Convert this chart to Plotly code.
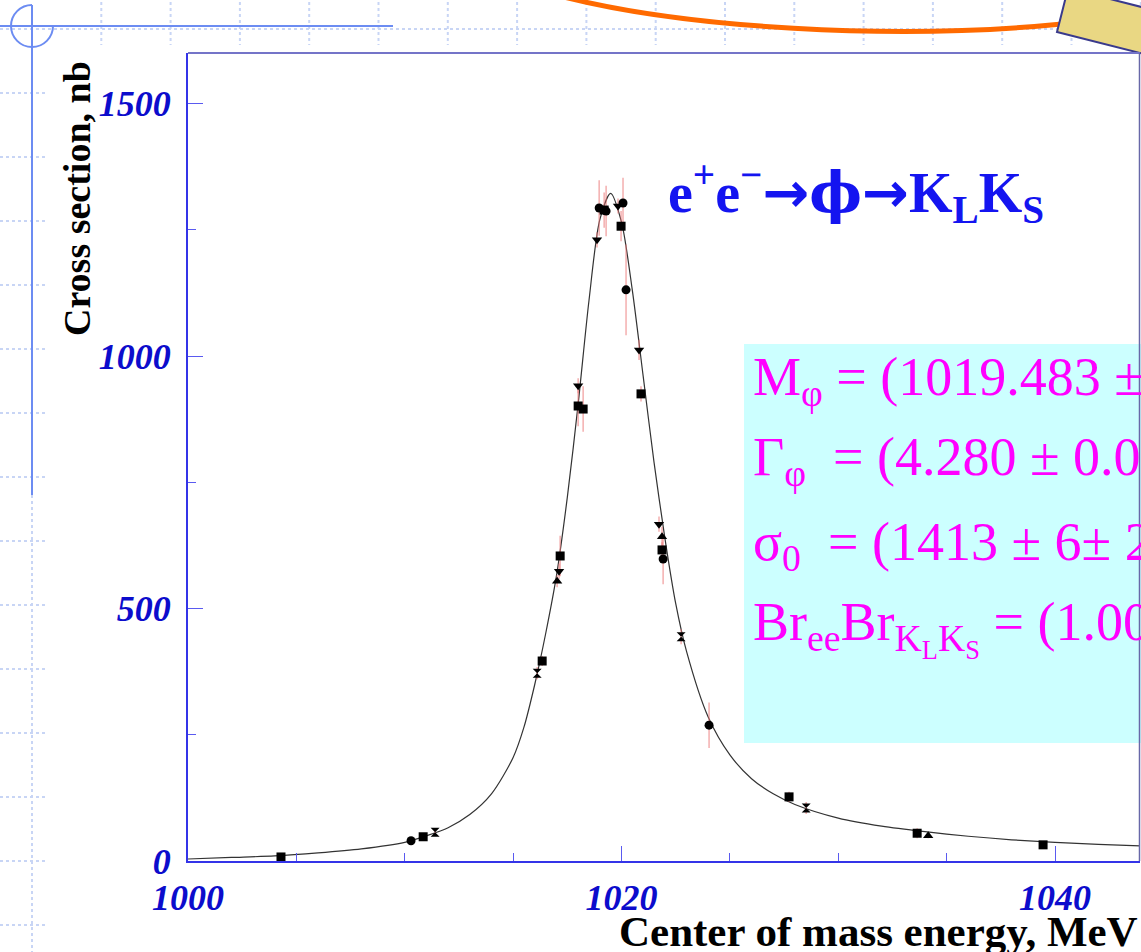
import plotly.graph_objects as go

# ---------------- data ----------------
energy = [1004.29, 1010.29, 1010.85, 1011.40, 1016.11, 1016.34, 1017.03, 1017.12,
          1017.17, 1018.00, 1018.00, 1018.23, 1018.87, 1018.97, 1019.20, 1019.29,
          1019.84, 1020.07, 1019.98, 1020.21, 1020.81, 1020.90, 1021.73, 1021.87,
          1021.87, 1021.92, 1022.75, 1024.04, 1027.73, 1028.52, 1033.64, 1034.15,
          1039.45]
sigma = [8, 40, 48, 57, 372, 396, 554, 574,
         604, 941, 901, 895, 1230, 1293, 1289, 1287,
         1297, 1303, 1257, 1131, 1012, 925, 667, 642,
         616, 598, 444, 269, 127, 105, 55, 50,
         32]
sigma_err = [5, 4, 4, 6, 12, 10, 12, 15,
             40, 15, 40, 45, 15, 55, 35, 50,
             15, 50, 30, 90, 20, 15, 15, 20,
             15, 50, 15, 45, 10, 12, 10, 5,
             4]
scan = ["sq", "ci", "sq", "hg", "hg", "sq", "tu", "td",
        "sq", "td", "sq", "sq", "td", "ci", "sq", "ci",
        "td", "ci", "sq", "ci", "td", "sq", "td", "tu",
        "sq", "ci", "hg", "ci", "sq", "hg", "sq", "tu",
        "sq"]

fit_energy = [1000, 1002, 1004, 1006, 1008, 1010, 1011, 1012, 1013, 1014, 1015,
              1015.5, 1016, 1016.5, 1017, 1017.5, 1018, 1018.5, 1019, 1019.5,
              1020, 1020.5, 1021, 1021.5, 1022, 1022.5, 1023, 1024, 1025, 1026,
              1027, 1028, 1030, 1032, 1034, 1036, 1038, 1040, 1042, 1044]
fit_sigma = [4, 7, 10, 16, 24, 37, 50, 66, 92, 133, 205,
             265, 350, 450, 565, 720, 905, 1110, 1270, 1322,
             1265, 1130, 960, 790, 640, 510, 415, 285, 210, 163,
             133, 112, 85, 69, 58, 49, 42, 37, 33, 30]

x_ticks = [1000, 1020, 1040]
y_ticks = [0, 500, 1000, 1500]

# ---------------- layout geometry helpers (pixel -> paper) ----------------
L, R, T, B = 188, 1140, 53, 861
W, H = R - L, B - T


def PX(x):
    return (x - L) / W


def PY(y):
    return (B - y) / H


def path(cmds):
    out = []
    for c in cmds:
        if isinstance(c, str):
            out.append(c)
        else:
            out.append(f"{PX(c[0]):.5f},{PY(c[1]):.5f}")
    return " ".join(out)


symbol_map = {"sq": "square", "ci": "circle", "tu": "triangle-up",
              "td": "triangle-down", "hg": "hourglass"}

fig = go.Figure()
fig.add_trace(go.Scatter(
    x=fit_energy, y=fit_sigma, mode="lines",
    line=dict(color="#333333", width=1.2, shape="spline", smoothing=0.8),
    hoverinfo="skip", showlegend=False))
fig.add_trace(go.Scatter(
    x=energy, y=sigma, mode="markers",
    marker=dict(color="black", size=9, symbol=[symbol_map[s] for s in scan]),
    error_y=dict(type="data", array=sigma_err, color="rgba(235,120,120,0.6)",
                 thickness=1.5, width=0),
    showlegend=False))

shapes = []
grid = dict(color="#C8D5F5", width=2, dash="dot")
for k in range(1, 17):
    xx = 32 + 69.3 * k
    shapes.append(dict(type="line", xref="paper", yref="paper",
                       x0=PX(xx), x1=PX(xx), y0=PY(2), y1=PY(45), line=grid))
shapes.append(dict(type="line", xref="paper", yref="paper",
                   x0=PX(0), x1=PX(1060), y0=PY(29), y1=PY(29), line=grid))
for k in range(1, 15):
    yy = 29 + 64 * k
    shapes.append(dict(type="line", xref="paper", yref="paper",
                       x0=PX(0), x1=PX(48), y0=PY(yy), y1=PY(yy), line=grid))
shapes.append(dict(type="line", xref="paper", yref="paper",
                   x0=PX(32), x1=PX(32), y0=PY(495), y1=PY(952), line=grid))
sl = dict(color="#6C8CF2", width=2)
shapes.append(dict(type="line", xref="paper", yref="paper",
                   x0=PX(0), x1=PX(393), y0=PY(26), y1=PY(26), line=sl))
shapes.append(dict(type="line", xref="paper", yref="paper",
                   x0=PX(32), x1=PX(32), y0=PY(5), y1=PY(495), line=sl))
k = 21 * 0.5523
shapes.append(dict(type="path", xref="paper", yref="paper", line=sl, path=path([
    "M", (32, 5), "C", (32 - k, 5), (11, 26 - k), (11, 26),
    "C", (11, 26 + k), (32 - k, 47), (32, 47),
    "C", (32 + k, 47), (53, 26 + k), (53, 26)])))
shapes.append(dict(type="path", xref="paper", yref="paper",
                   line=dict(color="#FF6A00", width=5), path=path([
                       "M", (545, -8), "C", (680, 30), (900, 40), (1062, 24)])))
ux, uy = 0.969, 0.245
h = 45
A = (1057, 32)
Bp = (A[0] + ux * 200, A[1] + uy * 200)
Dp = (A[0] + uy * h, A[1] - ux * h)
Cp = (Bp[0] + uy * h, Bp[1] - ux * h)
shapes.append(dict(type="path", xref="paper", yref="paper",
                   line=dict(color="#3A3A8C", width=2), fillcolor="#E9D783",
                   path=path(["M", A, "L", Bp, "L", Cp, "L", Dp, "Z"])))
shapes.append(dict(type="rect", xref="paper", yref="paper", layer="below",
                   x0=PX(744), x1=PX(1200), y0=PY(344), y1=PY(743),
                   fillcolor="#CCFFFF", line=dict(width=0)))
shapes.append(dict(type="line", xref="paper", yref="paper",
                   x0=0, x1=1, y0=1, y1=1, line=dict(color="#7474C8", width=2)))
shapes.append(dict(type="line", xref="paper", yref="paper",
                   x0=PX(1139.5), x1=PX(1139.5), y0=0, y1=1,
                   line=dict(color="#6868A8", width=1.5)))

serif = "Liberation Serif"
arrow = ("<span style='font-family:DejaVu Sans;font-weight:bold'>→</span>")
phi = "<span style='font-family:DejaVu Serif;font-weight:bold'>ϕ</span>"
annotations = [
    dict(text="Center of mass energy, MeV", x=PX(1140), y=PY(931),
         xanchor="right", yanchor="middle",
         font=dict(family=serif, size=43, color="black", weight="bold")),
    dict(text="Cross section, nb", x=PX(77), y=PY(199), textangle=-90,
         xanchor="center", yanchor="middle",
         font=dict(family=serif, size=38, color="black", weight="bold")),
    dict(text="e<sup>+</sup>e<sup>−</sup>" + arrow + phi + arrow
         + "K<sub>L</sub>K<sub>S</sub>",
         x=PX(666), y=PY(192), xanchor="left", yanchor="middle",
         font=dict(family=serif, size=56, color="#1414F0", weight="bold")),
]
mag = dict(family=serif, size=54, color="#FF00FF")
lines = [
    ("M<sub>φ</sub> = (1019.483 ±", 380),
    ("Γ<sub>φ</sub>  = (4.280 ± 0.0", 460),
    ("σ<sub>0</sub>  = (1413 ± 6± 2", 545),
    ("Br<sub>ee</sub>Br<sub>K<sub>L</sub>K<sub>S</sub></sub> = (1.00", 628),
]
for txt, yc in lines:
    annotations.append(dict(text=txt, x=PX(751), y=PY(yc), xanchor="left",
                            yanchor="middle", font=mag))
for a in annotations:
    a.update(xref="paper", yref="paper", showarrow=False)

tickfont = dict(family=serif, size=36, color="#0C0CCC", weight="bold",
                style="italic")
fig.update_layout(
    width=1141, height=952, autosize=False,
    margin=dict(l=L, r=1141 - R, t=T, b=952 - B, pad=0),
    paper_bgcolor="white", plot_bgcolor="white",
    shapes=shapes, annotations=annotations,
    xaxis=dict(range=[1000, 1000 + W / 21.675], tickvals=x_ticks,
               ticks="inside", ticklen=15, tickwidth=1, tickcolor="#5A5AF0",
               minor=dict(dtick=5, tick0=1000, ticks="inside", ticklen=8,
                          tickwidth=1, tickcolor="#5A5AF0"),
               showline=True, linecolor="#3434E8", linewidth=2,
               showgrid=False, zeroline=False, tickfont=tickfont,
               ticklabelstandoff=4),
    yaxis=dict(range=[0, 1600], tickvals=y_ticks,
               ticks="inside", ticklen=15, tickwidth=1, tickcolor="#5A5AF0",
               minor=dict(dtick=250, tick0=0, ticks="inside", ticklen=8,
                          tickwidth=1, tickcolor="#5A5AF0"),
               showline=True, linecolor="#3434E8", linewidth=2,
               showgrid=False, zeroline=False, tickfont=tickfont,
               ticklabelstandoff=8),
)
fig.write_html("out.html")
